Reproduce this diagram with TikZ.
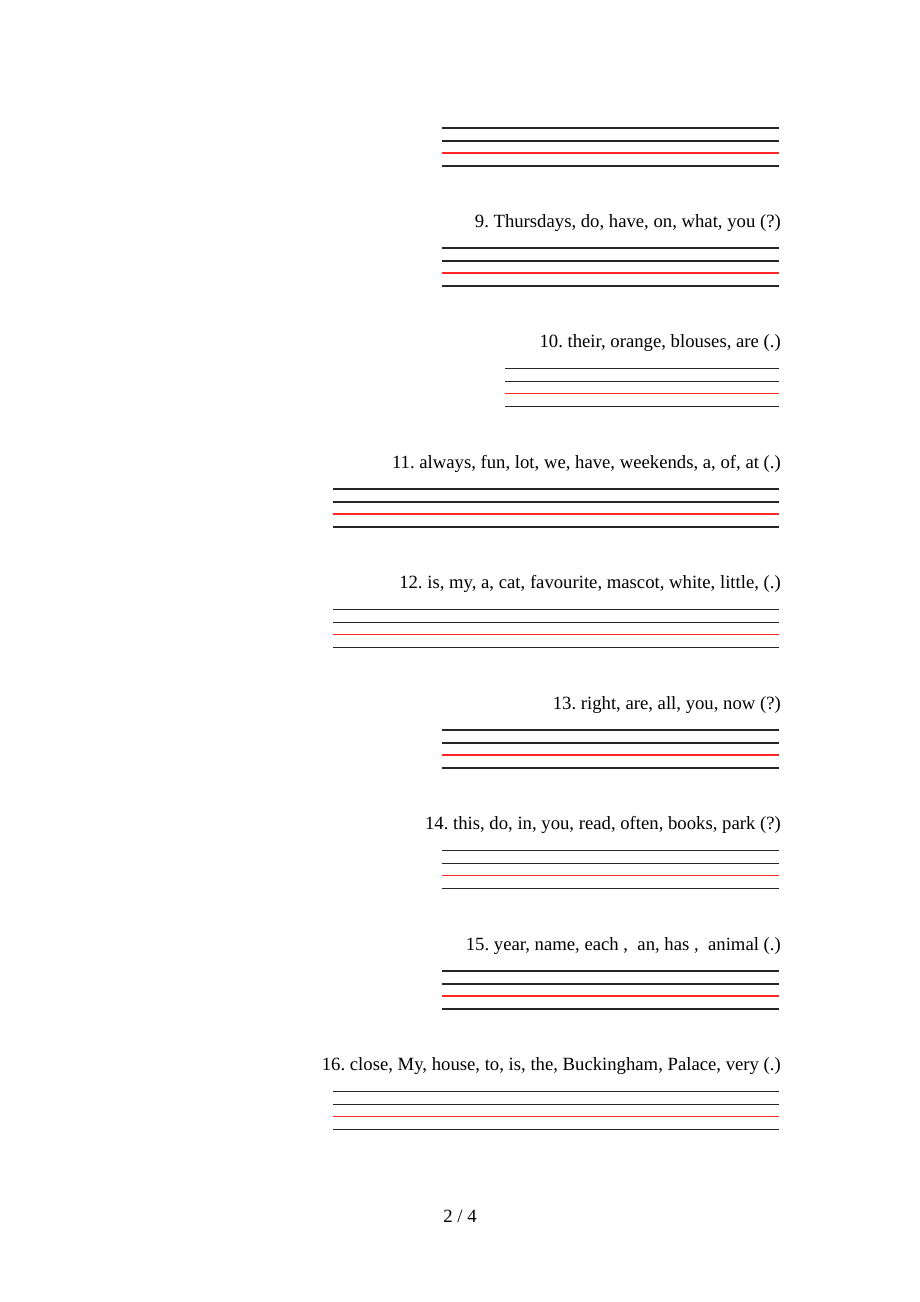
\documentclass[tikz,border=0pt]{standalone}
\usepackage{fontspec}
\setmainfont{Liberation Serif}
\usetikzlibrary{positioning}
\frenchspacing

\begin{document}
\begin{tikzpicture}[x=1pt,y=-1pt,
  rule/.style={line width=1.3pt, black!85},
  redrule/.style={line width=1.3pt, red!85},
  sentence/.style={anchor=base east, inner sep=0pt, font=\fontsize{18.7}{22}\selectfont}]
  % Pagina
  \useasboundingbox (0,0) rectangle (920,1302);
  % Renglones del ejercicio 8
  \draw[rule] (442,128) -- (779,128);
  \draw[rule] (442,141) -- (779,141);
  \draw[redrule] (442,153) -- (779,153);
  \draw[rule] (442,166) -- (779,166);
  % Frases 9--16 con sus renglones
  \foreach \n/\xl/\txt [count=\i from 0] in {
      9/442/{Thursdays, do, have, on, what, you (?)},
      10/505/{their, orange, blouses, are (.)},
      11/333/{always, fun, lot, we, have, weekends, a, of, at (.)},
      12/333/{is, my, a, cat, favourite, mascot, white, little, (.)},
      13/442/{right, are, all, you, now (?)},
      14/442/{this, do, in, you, read, often, books, park (?)},
      15/442/{year, name, each ,~ an, has ,~ animal (.)},
      16/333/{close, My, house, to, is, the, Buckingham, Palace, very (.)}} {
    \pgfmathsetmacro\yt{227+120.5*\i}
    \node[sentence] (q\n) at (781,\yt) {\n. \txt};
    \draw[rule] (\xl,\yt+21) -- (779,\yt+21);
    \draw[rule] (\xl,\yt+34) -- (779,\yt+34);
    \draw[redrule] (\xl,\yt+46) -- (779,\yt+46);
    \draw[rule] (\xl,\yt+59) -- (779,\yt+59);
  }
  % Numero de pagina
  \node[anchor=base, inner sep=0pt, font=\fontsize{18.7}{22}\selectfont] (pag) at (460,1222) {2 / 4};
\end{tikzpicture}
\end{document}
